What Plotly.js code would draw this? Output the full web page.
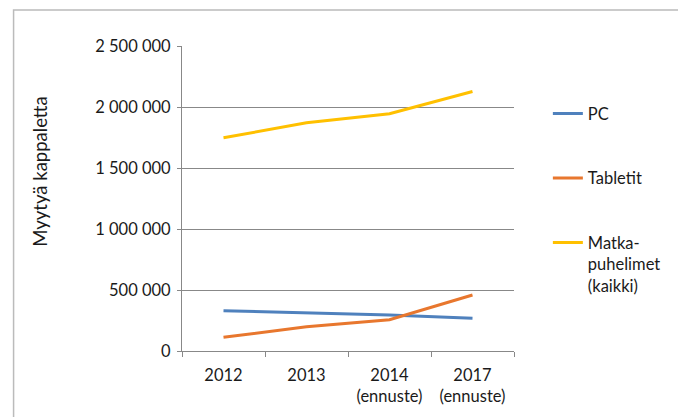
<!DOCTYPE html>
<html><head><meta charset="utf-8">
<script src="https://cdn.plot.ly/plotly-3.0.1.min.js"></script>
<style>html,body{margin:0;padding:0;background:#fff}#chart{width:678px;height:417px}</style>
</head><body><div id="chart"></div>
<script>
const categories = ["2012", "2013", "2014<br>(ennuste)", "2017<br>(ennuste)"];
const pcValues = [330000, 312000, 296000, 268000];
const tabletValues = [112000, 199000, 256000, 459000];
const phoneValues = [1748000, 1870000, 1945000, 2127000];
const seriesNames = ["PC", "Tabletit", "Matka-<br>puhelimet<br>(kaikki)"];
const yTicks = [0, 500000, 1000000, 1500000, 2000000, 2500000];
const yTitle = "Myytyä kappaletta";

const colors = ["#4F81BD", "#E8772E", "#FFC000"];
const allValues = [pcValues, tabletValues, phoneValues];
const traces = allValues.map((v, i) => ({
  type: "scatter", mode: "lines", x: categories, y: v, name: seriesNames[i],
  legendgroup: "g" + i,
  line: {color: colors[i], width: 3}, hoverinfo: "skip"
}));

const font = {family: "Lato, 'Open Sans', sans-serif", size: 16.5, color: "#1a1a1a"};
const layout = {
  width: 678, height: 417,
  margin: {l: 182, r: 153, t: 46, b: 66},
  paper_bgcolor: "#fff", plot_bgcolor: "#fff",
  font: font,
  separators: ", ",
  showlegend: true,
  legend: {x: 1.102, xanchor: "left", y: 0.835, yanchor: "top", valign: "top",
    tracegroupgap: 40, font: font, itemwidth: 30, bgcolor: "rgba(0,0,0,0)"},
  xaxis: {type: "category", range: [-0.5, 3.5], tickson: "boundaries", ticks: "outside", ticklen: 5,
    tickcolor: "#888", showline: true, linecolor: "#888", linewidth: 1,
    showgrid: false, tickfont: font, ticklabelstandoff: 9, fixedrange: true},
  yaxis: {range: [0, 2500000], tickvals: yTicks, tickformat: ",d", ticks: "outside",
    ticklen: 4, tickcolor: "#888", showline: true, linecolor: "#888", gridcolor: "#888",
    gridwidth: 1, zeroline: false, tickfont: font, ticklabelstandoff: 3, fixedrange: true},
  annotations: [{text: yTitle, textangle: -90, xref: "paper", yref: "paper",
    x: (35 - 182) / 343, y: (351 - 172) / 305, xanchor: "center", yanchor: "middle",
    showarrow: false, font: Object.assign({}, font, {size: 18.5})}],
  shapes: [{type: "rect", xref: "paper", yref: "paper",
    x0: (8 - 182) / 343, x1: 2, y0: (351 - 10) / 305, y1: -0.5,
    line: {color: "#bbb", width: 1.5}, layer: "below"}]
};
Plotly.newPlot("chart", traces, layout, {displayModeBar: false, staticPlot: true});
</script></body></html>
